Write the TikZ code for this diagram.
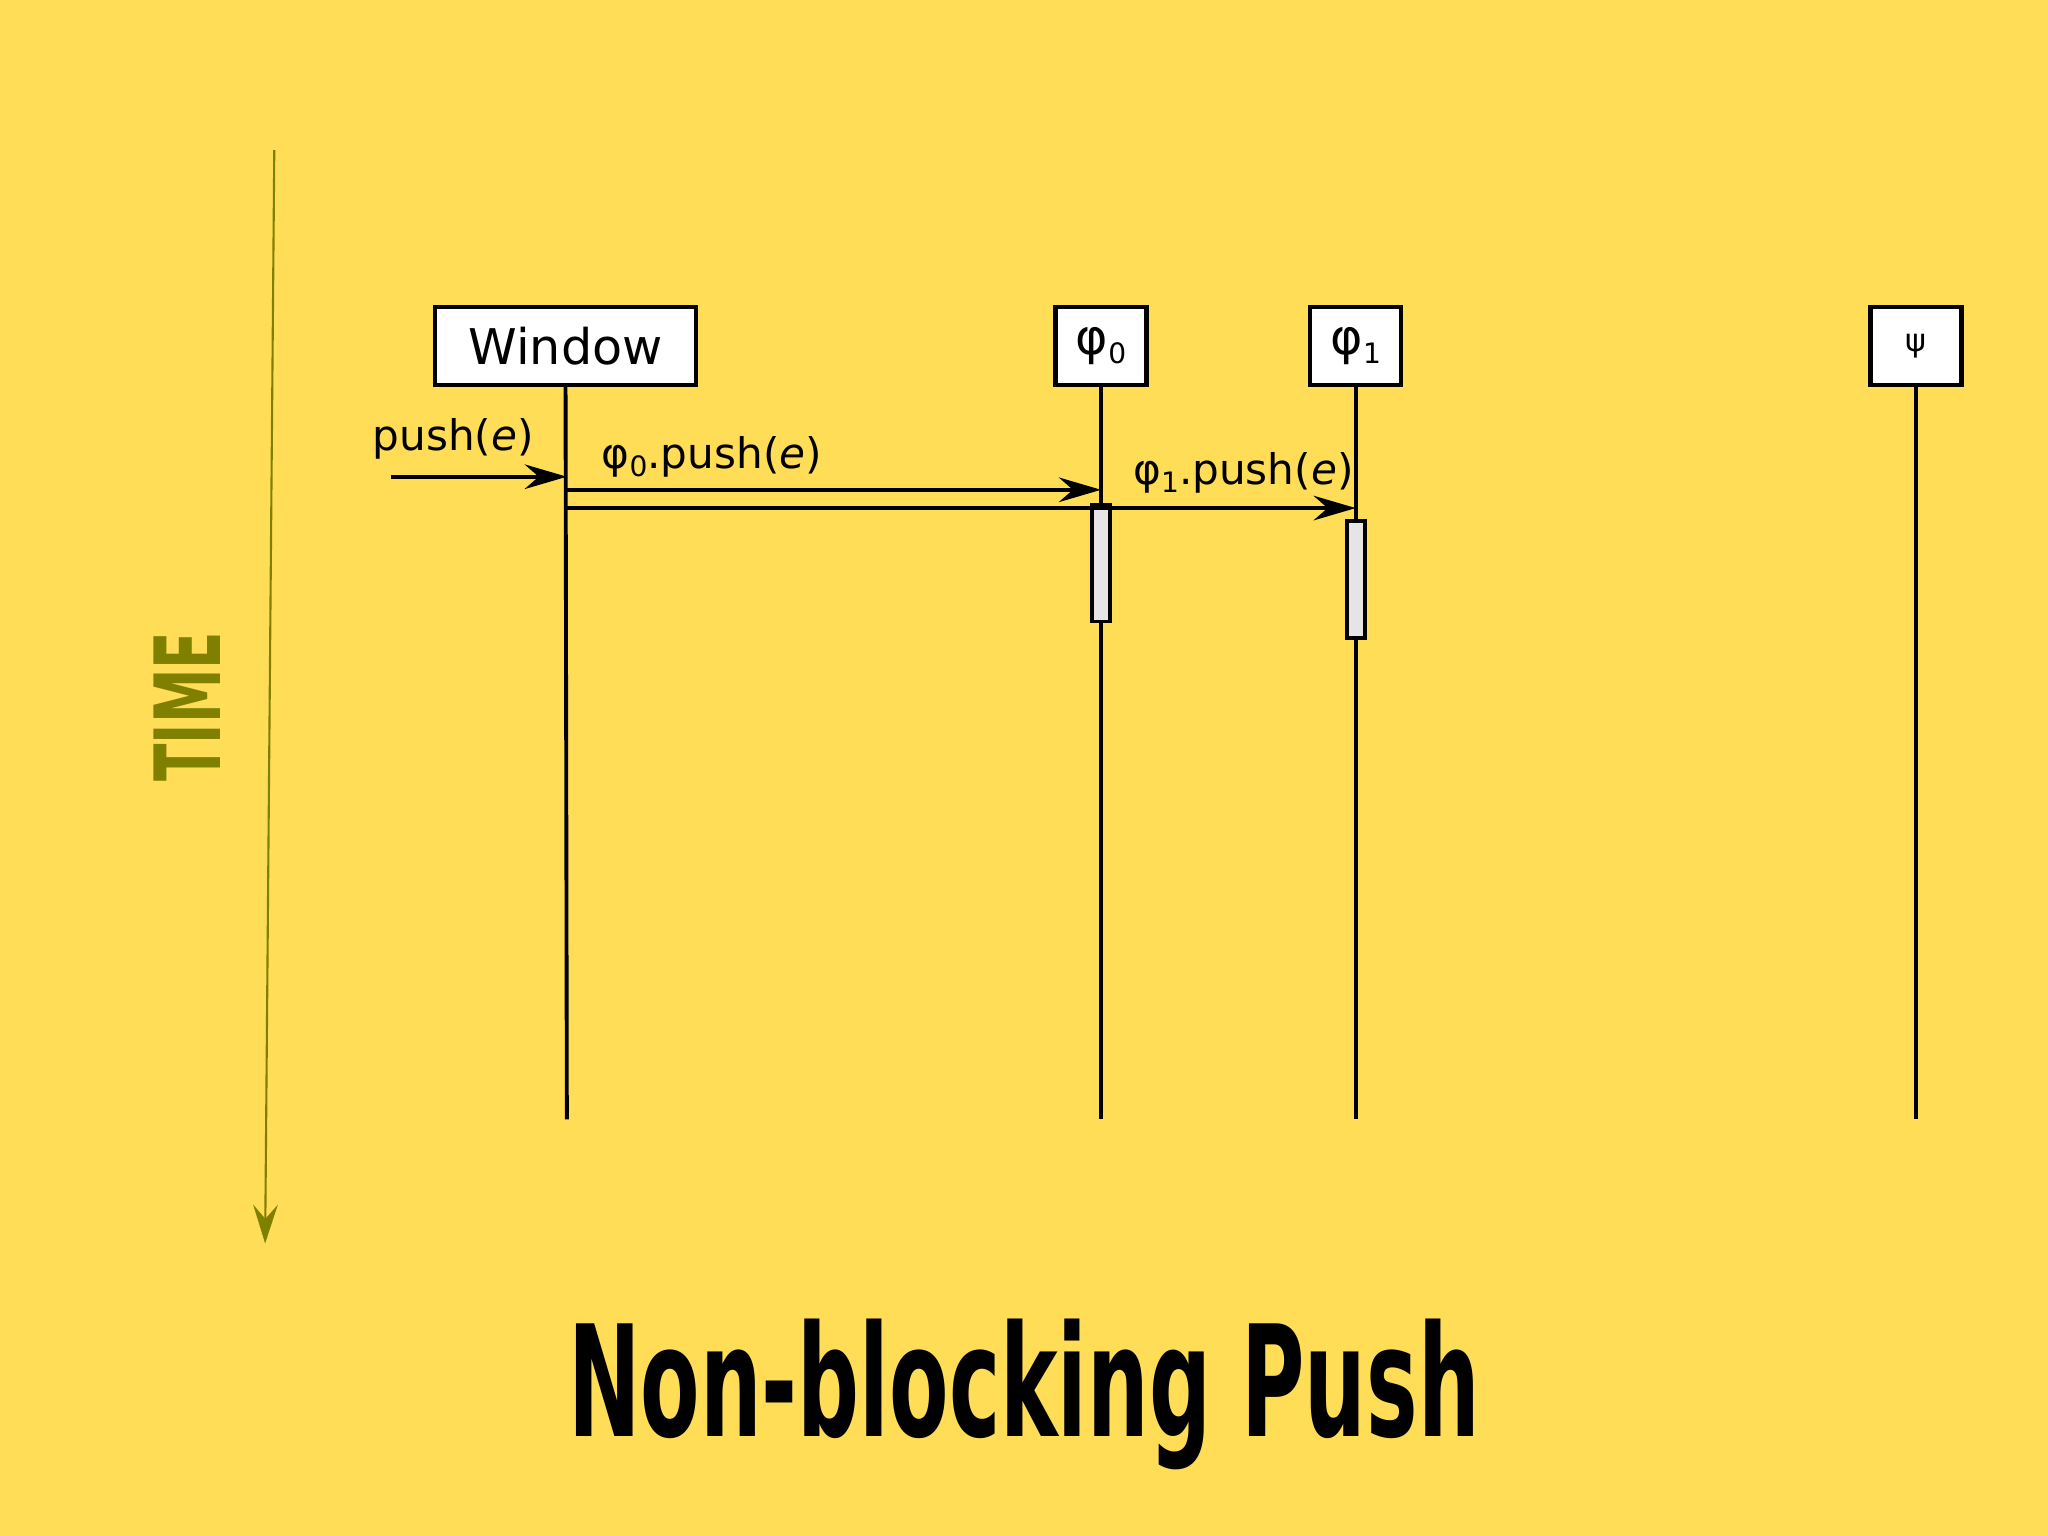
\documentclass[tikz,border=0pt]{standalone}
\usepackage{fontspec}
\setmainfont{DejaVu Sans}
\usetikzlibrary{arrows.meta}
\definecolor{bg}{RGB}{255,221,87}
\definecolor{olive}{RGB}{128,128,0}
\newcommand{\lowsub}[1]{\raisebox{-0.35ex}{\fontsize{8}{9}\selectfont #1}}
\begin{document}
\begin{tikzpicture}[x=0.01306cm,y=-0.01306cm,
  obj/.style={draw,line width=1.2pt,fill=white,minimum height=0.78cm,inner sep=0pt,font=\fontsize{14}{16}\selectfont},
  life/.style={line width=1.1pt},
  msg/.style={line width=1.1pt,-{Stealth[length=12pt,width=7pt,inset=4pt]}},
  act/.style={draw,line width=1.1pt,fill=black!10,minimum width=0.18cm,inner sep=0pt},
  lbl/.style={font=\fontsize{12}{14}\selectfont}]
\fill[bg] (0,0) rectangle (1568,1176);
\useasboundingbox (0,0) rectangle (1568,1176);
% time
\coordinate (t0) at (210,115); \coordinate (t1) at (203,952);
\draw[olive,line width=0.6pt,-{Stealth[length=11pt,width=7pt,inset=4pt]}] (t0) -- (t1);
\node[olive,rotate=90,xscale=0.6,font=\fontsize{26}{28}\selectfont\bfseries] (time) at (143,541) {TIME};
% objects
\node[obj,minimum width=2.61cm] (win) at (433,265) {Window};
\node[obj,minimum width=0.91cm] (p0) at (843,265) {φ\lowsub{0}};
\node[obj,minimum width=0.91cm] (p1) at (1038,265) {φ\lowsub{1}};
\node[obj,minimum width=0.91cm,font=\fontsize{9}{10}\selectfont] (psi) at (1467,265) {ψ};
\coordinate (we) at (434,857); \coordinate (p0e) at (843,857);
\coordinate (p1e) at (1038,857); \coordinate (pse) at (1467,857);
\draw[life] (win.south) -- (we);
\draw[life] (p0.south) -- (p0e);
\draw[life] (p1.south) -- (p1e);
\draw[life] (psi.south) -- (pse);
% activations
\node[act,minimum height=1.17cm] (a0) at (843,431) {};
\node[act,minimum height=1.17cm] (a1) at (1038,444) {};
% messages
\coordinate (s0) at (299,365); \coordinate (e0) at (434,365);
\draw[msg] (s0) -- (e0);
\node[lbl] (l0) at (347,336) {push(\textit{e})};
\coordinate (s1) at (434,375); \coordinate (e1) at (843,375);
\draw[msg] (s1) -- (e1);
\node[lbl] (l1) at (545,350) {φ\lowsub{0}.push(\textit{e})};
\coordinate (s2) at (434,389); \coordinate (e2) at (1038,389);
\draw[msg] (s2) -- (e2);
\node[lbl] (l2) at (952,362) {φ\lowsub{1}.push(\textit{e})};
% title
\node[xscale=0.56,font=\fontsize{44}{48}\selectfont\bfseries] (title) at (784,1068) {Non-blocking Push};
\end{tikzpicture}
\end{document}
